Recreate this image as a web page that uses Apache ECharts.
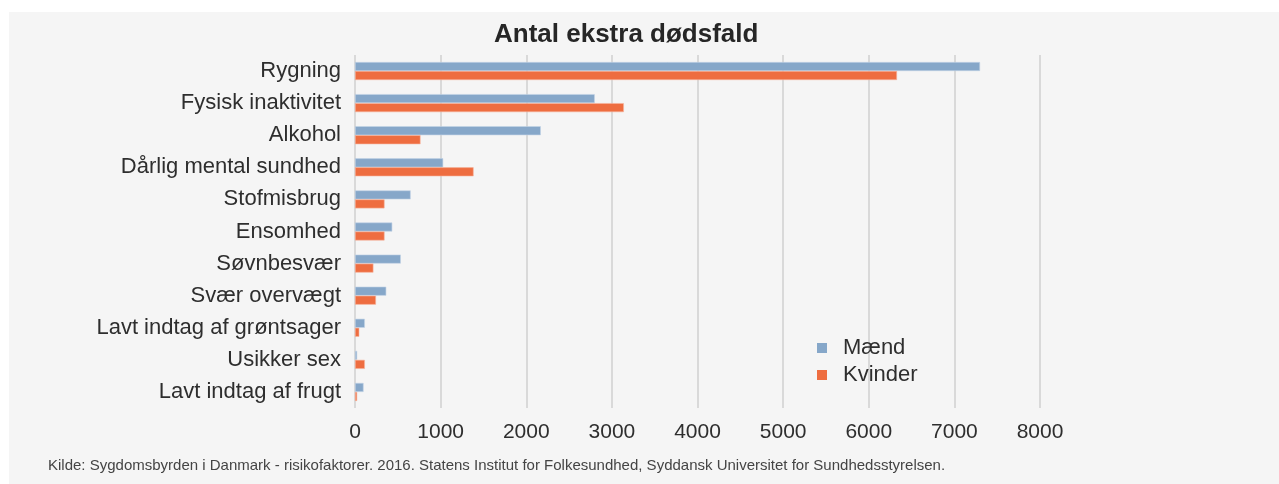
<!DOCTYPE html>
<html>
<head>
<meta charset="utf-8">
<script src="https://cdn.jsdelivr.net/npm/echarts@6/dist/echarts.min.js"></script>
<style>html,body{margin:0;padding:0;background:#fff;}#c{width:1279px;height:484px;}</style>
</head>
<body>
<div id="c"></div>
<script>
const categories = ["Rygning","Fysisk inaktivitet","Alkohol","Dårlig mental sundhed","Stofmisbrug","Ensomhed","Søvnbesvær","Svær overvægt","Lavt indtag af grøntsager","Usikker sex","Lavt indtag af frugt"];
const maend = [7300, 2800, 2170, 1030, 650, 435, 535, 365, 115, 25, 100];
const kvinder = [6330, 3140, 765, 1385, 345, 345, 215, 245, 50, 115, 25];
const xTicks = [0,1000,2000,3000,4000,5000,6000,7000,8000];
const titleText = "Antal ekstra dødsfald";
const sourceText = "Kilde: Sygdomsbyrden i Danmark - risikofaktorer. 2016. Statens Institut for Folkesundhed, Syddansk Universitet for Sundhedsstyrelsen.";

const chart = echarts.init(document.getElementById('c'), null, {renderer:'canvas'});
const font = "'Liberation Sans', Arial, sans-serif";
chart.setOption({
  backgroundColor: '#ffffff',
  textStyle: {fontFamily: font},
  graphic: [
    {type:'rect', left:9, top:12, shape:{width:1270, height:472}, style:{fill:'#f5f5f5'}, z:-10},
    {type:'text', left:48, top:458, style:{text: sourceText, fontSize:15, fill:'#444', fontFamily: font}}
  ],
  title: {text: titleText, left: 489, top: 17, textStyle:{fontSize:26, fontWeight:'bold', color:'#262626', fontFamily: font}},
  legend: {orient:'vertical', left:812, top:332, itemWidth:10, itemHeight:10, itemGap:5,
    textStyle:{fontSize:22, lineHeight:22, color:'#2e2e2e', fontFamily: font, padding:[0,0,0,11]}, icon:'rect',
    itemStyle:{borderWidth:0},
    data:['Mænd','Kvinder']},
  grid: {left:355, right:239, top:55, bottom:76, containLabel:false},
  xAxis: {type:'value', min:0, max:8000, interval:1000,
    axisLine:{show:false}, axisTick:{show:false},
    axisLabel:{fontSize:21, color:'#2e2e2e', margin:14, fontFamily: font,
      formatter: v => xTicks.includes(v) ? String(v) : ''},
    splitLine:{show:true, lineStyle:{color:'#d9d9d9', width:2}}},
  yAxis: {type:'category', data: categories, inverse:true,
    axisLine:{show:false}, axisTick:{show:false},
    axisLabel:{fontSize:22, color:'#2e2e2e', margin:14, fontFamily: font}},
  series: [
    {name:'Mænd', type:'bar', data: maend, barWidth:9, barGap:'0%',
      itemStyle:{color:'#86a7c9', borderColor:'#c3d4e6', borderWidth:0.6}},
    {name:'Kvinder', type:'bar', data: kvinder, barWidth:9, barGap:'0%',
      itemStyle:{color:'#ee6d40', borderColor:'#f6b49c', borderWidth:0.6}}
  ]
});
</script>
</body>
</html>
